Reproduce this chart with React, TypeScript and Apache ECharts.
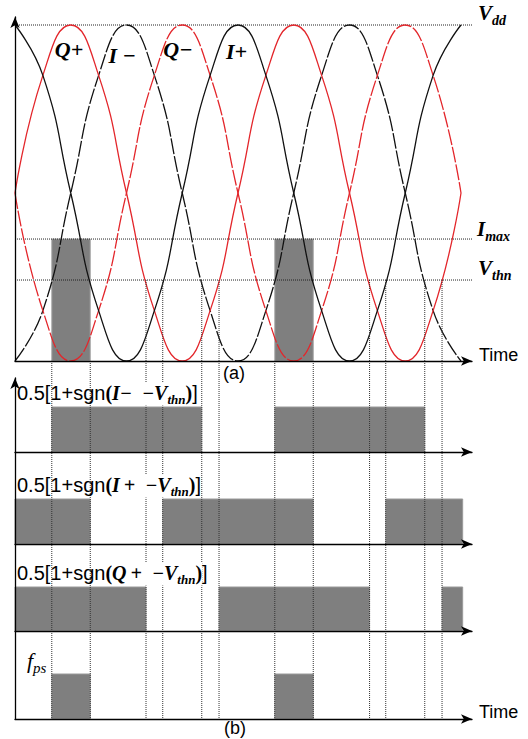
import React, { useEffect, useRef } from "react";
import * as echarts from "echarts";

// ---- data (time in quarter periods, amplitude normalised to Vdd = 1) ----
const sampleTimes = [0, 0.5, 1, 1.5, 2, 2.5, 3, 3.5, 4, 4.5, 5, 5.5, 6, 6.5, 7, 7.5, 8];
const iPlus = [1, 0.85, 0.5, 0.15, 0, 0.15, 0.5, 0.85, 1, 0.85, 0.5, 0.15, 0, 0.15, 0.5, 0.85, 1];
const iMinus = [0, 0.15, 0.5, 0.85, 1, 0.85, 0.5, 0.15, 0, 0.15, 0.5, 0.85, 1, 0.85, 0.5, 0.15, 0];
const qPlus = [0.5, 0.85, 1, 0.85, 0.5, 0.15, 0, 0.15, 0.5, 0.85, 1, 0.85, 0.5, 0.15, 0, 0.15, 0.5];
const qMinus = [0.5, 0.15, 0, 0.15, 0.5, 0.85, 1, 0.85, 0.5, 0.15, 0, 0.15, 0.5, 0.85, 1, 0.85, 0.5];

const vdd = 1;
const iMax = 0.363;
const vThn = 0.241;

const boxIntervals = [[0.66, 1.35], [4.66, 5.35]];
const panelAGuides = [2.35, 2.65, 3.35, 3.66, 6.36, 6.65, 7.35, 7.66];
const crossingTimes = [0.66, 1.35, 2.35, 2.65, 3.35, 3.66, 4.66, 5.35, 6.36, 6.65, 7.35, 7.66];

const iMinusPulses = [[0.66, 3.35], [4.66, 7.35]];
const iPlusPulses = [[0, 1.35], [2.65, 5.35], [6.65, 8.03]];
const qPlusPulses = [[0, 2.35], [3.66, 6.36], [7.66, 8.03]];
const fpsPulses = [[0.66, 1.35], [4.66, 5.35]];

const curveLabels = ["Q+", "I \u2212", "Q\u2212", "I+"];
const curveLabelTimes = [1, 2, 3, 4];

// ---- layout ----
const PX_PER_T = 55.75;
const X0 = 15;
const X_END = 472;
const xMax = (X_END - X0) / PX_PER_T;
const A_TOP = 17;
const A_BOTTOM = 361;
const VDD_Y = 25;
const aYMax = (A_BOTTOM - A_TOP) / (A_BOTTOM - VDD_Y);
const subPanels = [
  { top: 407, height: 45, pulses: iMinusPulses },
  { top: 499, height: 45, pulses: iPlusPulses },
  { top: 587, height: 44, pulses: qPlusPulses },
  { top: 674, height: 45, pulses: fpsPulses },
];
const B_LINES_TOP = 361;
const B_BOTTOM = 719;
const B_AXIS_TOP = 378;

const SERIF = "'Liberation Serif', 'Times New Roman', serif";
const SANS = "'Liberation Sans', Arial, sans-serif";
const GRAY = "#7f7f7f";
const RED = "#e3262b";

const axisLineArrow = {
  show: true,
  onZero: false,
  symbol: ["none", "arrow"],
  symbolSize: [7, 11],
  lineStyle: { color: "#000", width: 1.3 },
};

function valueAxis(gridIndex: number, min: number, max: number, showLine: boolean) {
  return {
    type: "value",
    gridIndex,
    min,
    max,
    show: showLine,
    z: 5,
    axisLine: axisLineArrow,
    axisTick: { show: false },
    axisLabel: { show: false },
    splitLine: { show: false },
  };
}

export default function App() {
  const ref = useRef<HTMLDivElement>(null);
  useEffect(() => {
    if (!ref.current) return;
    const chart = echarts.init(ref.current, undefined, { renderer: "svg" });

    const grids: any[] = [
      { left: X0, top: A_TOP, width: X_END - X0, height: A_BOTTOM - A_TOP },
      ...subPanels.map((p) => ({ left: X0, top: p.top, width: X_END - X0, height: p.height })),
      { left: X0, top: B_LINES_TOP, width: X_END - X0, height: B_BOTTOM - B_LINES_TOP },
      { left: X0, top: B_AXIS_TOP, width: X_END - X0, height: B_BOTTOM - B_AXIS_TOP },
    ];
    const xAxes: any[] = [
      valueAxis(0, 0, xMax, true),
      ...subPanels.map((_, i) => valueAxis(i + 1, 0, xMax, true)),
      valueAxis(5, 0, xMax, false),
      valueAxis(6, 0, xMax, false),
    ];
    const yAxes: any[] = [
      valueAxis(0, 0, aYMax, true),
      ...subPanels.map((_, i) => valueAxis(i + 1, 0, 1, false)),
      valueAxis(5, 0, 1, false),
      valueAxis(6, 0, 1, true),
    ];

    const dotted = { color: "#222", width: 1, type: [1, 1] as any };

    const hLine = (v: number) => ({
      type: "line",
      xAxisIndex: 0,
      yAxisIndex: 0,
      data: [[0, v], [xMax, v]],
      showSymbol: false,
      silent: true,
      z: 1,
      lineStyle: dotted,
    });

    const curve = (vals: number[], color: string, dashed: boolean) => ({
      type: "line",
      xAxisIndex: 0,
      yAxisIndex: 0,
      data: sampleTimes.map((t, i) => [t, vals[i]]),
      smooth: 0.5,
      smoothMonotone: "none",
      showSymbol: false,
      z: 3,
      lineStyle: { color, width: 1.3, type: dashed ? ([16, 2] as any) : "solid" },
    });

    const rectSeries = (gridIdx: number, data: number[][], topVal: number, edge: string) => ({
      type: "custom",
      xAxisIndex: gridIdx,
      yAxisIndex: gridIdx,
      z: 1,
      data,
      renderItem: (_p: any, api: any) => {
        const a = api.coord([api.value(0), topVal]);
        const b = api.coord([api.value(1), 0]);
        return {
          type: "rect",
          shape: { x: a[0], y: a[1], width: b[0] - a[0], height: b[1] - a[1] },
          style: { fill: GRAY, stroke: edge, lineWidth: 1 },
        };
      },
    });

    const vGuides = (gridIdx: number, times: number[], topVal: number) => ({
      type: "custom",
      xAxisIndex: gridIdx,
      yAxisIndex: gridIdx,
      z: 4,
      silent: true,
      data: times.map((t) => [t, topVal]),
      renderItem: (_p: any, api: any) => {
        const a = api.coord([api.value(0), api.value(1)]);
        const b = api.coord([api.value(0), 0]);
        return {
          type: "line",
          shape: { x1: a[0], y1: a[1], x2: b[0], y2: b[1] },
          style: { stroke: "#333", lineWidth: 1, lineDash: [1, 1] },
        };
      },
    });

    const series: any[] = [
      rectSeries(0, boxIntervals, iMax, "#a8a8a8"),
      hLine(vdd),
      hLine(iMax),
      hLine(vThn),
      vGuides(0, panelAGuides, vThn),
      curve(iMinus, "#111", true),
      curve(qMinus, RED, true),
      curve(qPlus, RED, false),
      curve(iPlus, "#111", false),
      ...subPanels.map((p, i) => rectSeries(i + 1, p.pulses, 1, "#9a9a9a")),
      vGuides(5, crossingTimes, 1),
    ];

    const sv = { fontFamily: SERIF, fontStyle: "italic", fontWeight: "bold", fill: "#000" };
    const bigSerif = (size: number, pb: number) => ({ ...sv, fontSize: size, padding: [0, 0, pb, 0], verticalAlign: "bottom" });
    const subSerif = (size: number) => ({ ...sv, fontSize: size, verticalAlign: "bottom" });

    const rightLabel = (main: string, sub: string, x: number, y: number) => ({
      type: "text",
      x,
      y,
      z: 10,
      style: {
        text: `{m|${main}}{s|${sub}}`,
        rich: { m: bigSerif(21, 4), s: subSerif(14) },
        verticalAlign: "middle",
        textVerticalAlign: "middle",
      },
    });

    const eqLabel = (sym: string, y: number) => ({
      type: "text",
      x: 17,
      y,
      z: 10,
      style: {
        text: `{a|0.5[1+sgn}{p|(}{v|${sym}}{v|\u2002\u2212V}{t|thn}{p|)}{a|]}`,
        rich: {
          a: { fontFamily: SANS, fontSize: 20, fill: "#000", verticalAlign: "bottom", padding: [0, 0, 3, 0] },
          p: { ...bigSerif(20, 3), fontStyle: "normal", backgroundColor: "#fff" },
          v: { ...bigSerif(20, 3), backgroundColor: "#fff" },
          t: { ...subSerif(13), backgroundColor: "#fff" },
        },
        verticalAlign: "middle",
        textVerticalAlign: "middle",
      },
    });

    const sansText = (text: string, x: number, y: number, align = "left") => ({
      type: "text",
      x,
      y,
      z: 10,
      style: {
        text,
        fontFamily: SANS,
        fontSize: 18,
        fill: "#000",
        align,
        textAlign: align,
        verticalAlign: "middle",
        textVerticalAlign: "middle",
      },
    });

    const graphic: any[] = [
      rightLabel("V", "dd", 478, 15),
      rightLabel("I", "max", 477, 231),
      rightLabel("V", "thn", 478, 270),
      sansText("Time", 479, 355),
      sansText("(a)", 234, 373, "center"),
      sansText("(b)", 235, 728, "center"),
      sansText("Time", 479, 712),
      ...curveLabels.map((lab, i) => ({
        type: "text",
        x: X0 + curveLabelTimes[i] * PX_PER_T + [-16, -18, -19, -12][i],
        y: [49, 55, 49, 51][i],
        z: 10,
        style: {
          text: lab,
          fontFamily: SERIF,
          fontStyle: "italic",
          fontWeight: "bold",
          fontSize: 22,
          fill: "#000",
          verticalAlign: "middle",
          textVerticalAlign: "middle",
        },
      })),
      eqLabel("I\u2212", 394),
      eqLabel("I\u2009+", 486),
      eqLabel("Q\u2009+", 574),
      {
        type: "text",
        x: 27,
        y: 662,
        z: 10,
        style: {
          text: "{f|f}{s|ps}",
          rich: {
            f: { fontFamily: SERIF, fontStyle: "italic", fontSize: 22, fill: "#000", verticalAlign: "bottom", padding: [0, 0, 4, 0] },
            s: { fontFamily: SERIF, fontStyle: "italic", fontSize: 15, fill: "#000", verticalAlign: "bottom" },
          },
          verticalAlign: "middle",
          textVerticalAlign: "middle",
        },
      },
    ];

    chart.setOption({
      animation: false,
      backgroundColor: "#fff",
      grid: grids,
      xAxis: xAxes,
      yAxis: yAxes,
      series,
      graphic,
    });
    return () => chart.dispose();
  }, []);

  return (
    <div
      ref={ref}
      style={{ position: "fixed", left: 0, top: 0, width: 528, height: 739, background: "#fff" }}
    />
  );
}
